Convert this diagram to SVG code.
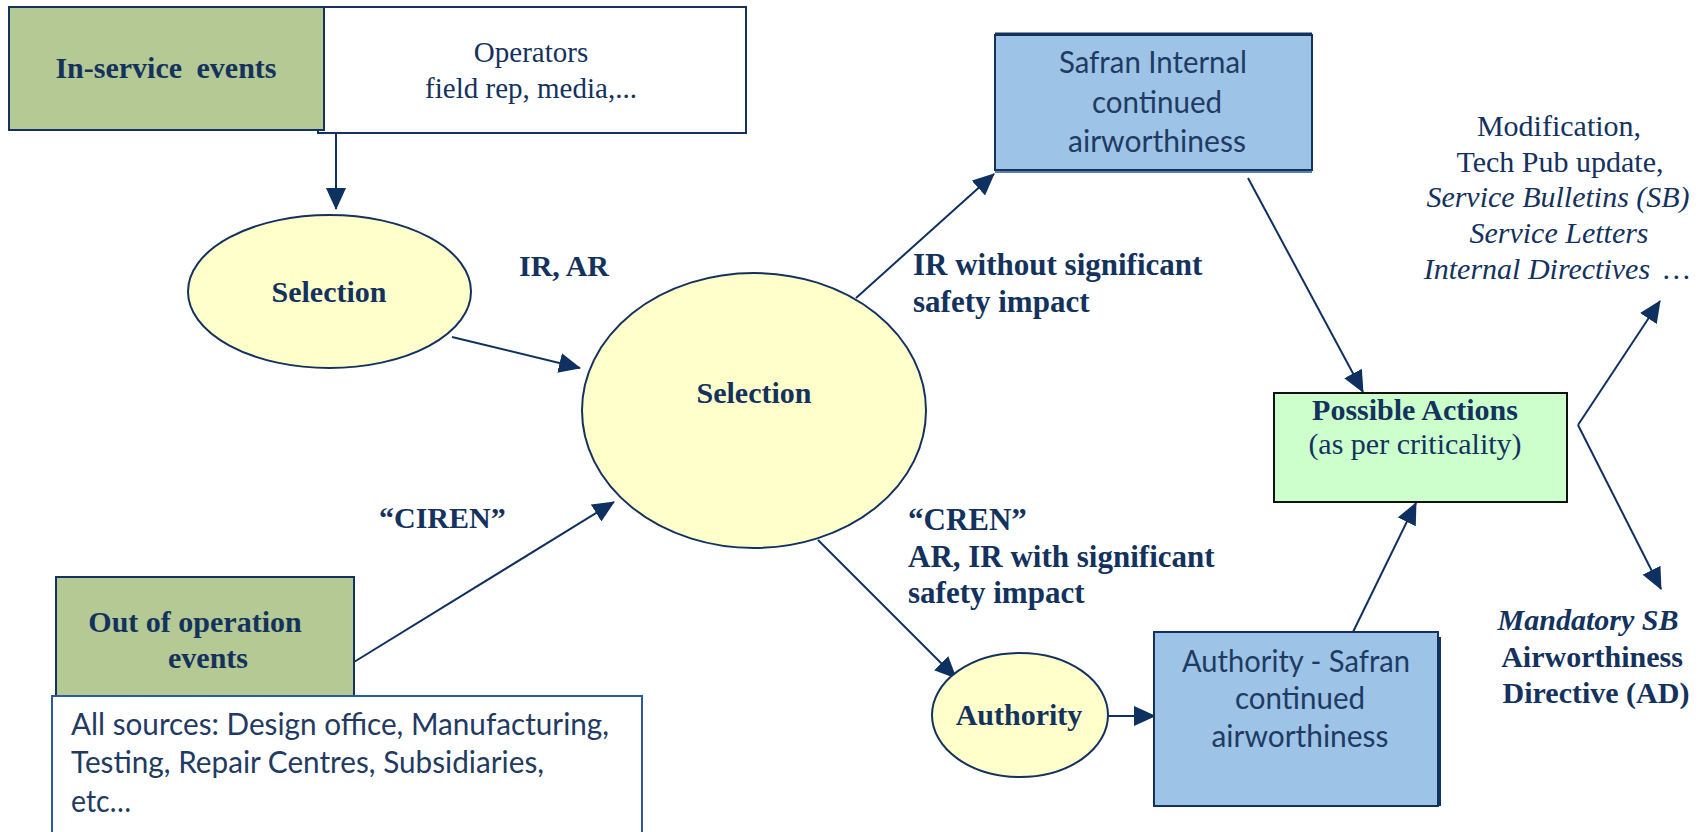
<svg xmlns="http://www.w3.org/2000/svg" width="1708" height="832" viewBox="0 0 1708 832">
<defs>
<marker id="ah" markerUnits="userSpaceOnUse" markerWidth="22" markerHeight="20" refX="21" refY="10" orient="auto">
<path d="M0,0 L22,10 L0,20 z" fill="#0E3161"/>
</marker>
<style>
.serif{font-family:"Liberation Serif","Times New Roman",serif;fill:#13325E;}
.b{font-weight:bold;}
.i{font-style:italic;}
.sans{font-family:Lato,"Liberation Sans",sans-serif;fill:#1F3B63;}
.nav{stroke:#14325E;stroke-width:2;}
.green{fill:#B4C993;}
.yellow{fill:#FFFFCC;}
.blue{fill:#9DC3E6;}
.white{fill:#FFFFFF;}
.conn line{stroke:#0E3161;stroke-width:2;fill:none;}
</style>
</defs>
<rect width="1708" height="832" fill="#FFFFFF"/>

<g id="connectors" class="conn">
<line x1="336" y1="134" x2="336" y2="209" marker-end="url(#ah)"/>
<line x1="452" y1="337" x2="580" y2="368" marker-end="url(#ah)"/>
<line x1="354" y1="662" x2="614" y2="502" marker-end="url(#ah)"/>
<line x1="856" y1="298" x2="994" y2="174" marker-end="url(#ah)"/>
<line x1="818" y1="540" x2="956" y2="678" marker-end="url(#ah)"/>
<line x1="1108" y1="716" x2="1155" y2="716" marker-end="url(#ah)"/>
<line x1="1248" y1="178" x2="1363" y2="392" marker-end="url(#ah)"/>
<line x1="1353" y1="632" x2="1416" y2="503" marker-end="url(#ah)"/>
<line x1="1578" y1="425" x2="1660" y2="301" marker-end="url(#ah)"/>
<line x1="1578" y1="425" x2="1661" y2="589" marker-end="url(#ah)"/>
</g>

<g id="in-service">
<rect x="318" y="7" width="428" height="126" class="white nav"/>
<rect x="9" y="7" width="315" height="123" class="green nav"/>
<text x="166" y="78" text-anchor="middle" class="serif b" font-size="30" word-spacing="7">In-service events</text>
<text x="531" y="62" text-anchor="middle" class="serif" font-size="29">Operators</text>
<text x="531" y="98" text-anchor="middle" class="serif" font-size="29">field rep, media,...</text>
</g>

<g id="selection1">
<ellipse cx="329.5" cy="291.5" rx="141.5" ry="76.5" class="yellow nav"/>
<text x="329" y="302" text-anchor="middle" class="serif b" font-size="30">Selection</text>
</g>

<g id="selection2">
<ellipse cx="754" cy="410.5" rx="172" ry="137.5" class="yellow nav"/>
<text x="754" y="403" text-anchor="middle" class="serif b" font-size="30">Selection</text>
</g>

<g id="out-of-operation">
<rect x="56" y="577" width="298" height="119" class="green nav"/>
<text x="195" y="632" text-anchor="middle" class="serif b" font-size="30">Out of operation</text>
<text x="208" y="668" text-anchor="middle" class="serif b" font-size="30">events</text>
<rect x="52" y="696" width="590" height="142" class="white" stroke="#2A5A9A" stroke-width="2"/>
<text x="71" y="735" class="sans" font-size="31" textLength="538" lengthAdjust="spacingAndGlyphs">All sources: Design office, Manufacturing,</text>
<text x="71" y="773" class="sans" font-size="31" textLength="473" lengthAdjust="spacingAndGlyphs">Testing, Repair Centres, Subsidiaries,</text>
<text x="71" y="812" class="sans" font-size="31" textLength="60" lengthAdjust="spacingAndGlyphs">etc…</text>
</g>

<g id="safran-internal">
<rect x="995" y="36" width="317" height="137" fill="#5B7FA8"/>
<rect x="995" y="35" width="317" height="135" class="blue nav"/>
<line x1="995" y1="34" x2="1312" y2="34" stroke="#14325E" stroke-width="3"/>
<text x="1153" y="73" text-anchor="middle" class="sans" font-size="30" textLength="188" lengthAdjust="spacingAndGlyphs">Safran Internal</text>
<text x="1157" y="113" text-anchor="middle" class="sans" font-size="30" textLength="130" lengthAdjust="spacingAndGlyphs">continued</text>
<text x="1157" y="152" text-anchor="middle" class="sans" font-size="30" textLength="178" lengthAdjust="spacingAndGlyphs">airworthiness</text>
</g>

<g id="possible-actions">
<rect x="1274" y="393" width="293" height="109" fill="#CCFFCC" stroke="#111111" stroke-width="2"/>
<text x="1415" y="420" text-anchor="middle" class="serif b" font-size="30">Possible Actions</text>
<text x="1415" y="454" text-anchor="middle" class="serif" font-size="30">(as per criticality)</text>
</g>

<g id="authority">
<ellipse cx="1020" cy="715" rx="88" ry="62" class="yellow nav"/>
<text x="1019" y="725" text-anchor="middle" class="serif b" font-size="30">Authority</text>
</g>

<g id="authority-safran">
<line x1="1440" y1="637" x2="1440" y2="806" stroke="#14325E" stroke-width="2"/>
<rect x="1154" y="632" width="284" height="174" class="blue nav"/>
<text x="1296" y="672" text-anchor="middle" class="sans" font-size="30" textLength="228" lengthAdjust="spacingAndGlyphs">Authority - Safran</text>
<text x="1300" y="709" text-anchor="middle" class="sans" font-size="30" textLength="130" lengthAdjust="spacingAndGlyphs">continued</text>
<text x="1300" y="747" text-anchor="middle" class="sans" font-size="30" textLength="177" lengthAdjust="spacingAndGlyphs">airworthiness</text>
</g>

<g id="non-mandatory-actions">
<text x="1559" y="136" text-anchor="middle" class="serif" font-size="30">Modification,</text>
<text x="1560" y="172" text-anchor="middle" class="serif" font-size="30">Tech Pub update,</text>
<text x="1558" y="207" text-anchor="middle" class="serif i" font-size="30">Service Bulletins (SB)</text>
<text x="1559" y="243" text-anchor="middle" class="serif i" font-size="30">Service Letters</text>
<text x="1557" y="279" text-anchor="middle" class="serif i" font-size="30">Internal Directives <tspan dx="6">…</tspan></text>
</g>

<g id="mandatory-actions">
<text x="1588" y="630" text-anchor="middle" class="serif b i" font-size="30">Mandatory SB</text>
<text x="1592" y="667" text-anchor="middle" class="serif b" font-size="30">Airworthiness</text>
<text x="1596" y="703" text-anchor="middle" class="serif b" font-size="30">Directive (AD)</text>
</g>

<g id="edge-labels">
<text x="519" y="276" class="serif b" font-size="30">IR, AR</text>
<text x="913" y="275" class="serif b" font-size="31">IR without significant</text>
<text x="913" y="312" class="serif b" font-size="31">safety impact</text>
<text x="379" y="528" class="serif b" font-size="30">“CIREN”</text>
<text x="908" y="530" class="serif b" font-size="31">“CREN”</text>
<text x="908" y="567" class="serif b" font-size="31">AR, IR with significant</text>
<text x="908" y="603" class="serif b" font-size="31">safety impact</text>
</g>
</svg>
